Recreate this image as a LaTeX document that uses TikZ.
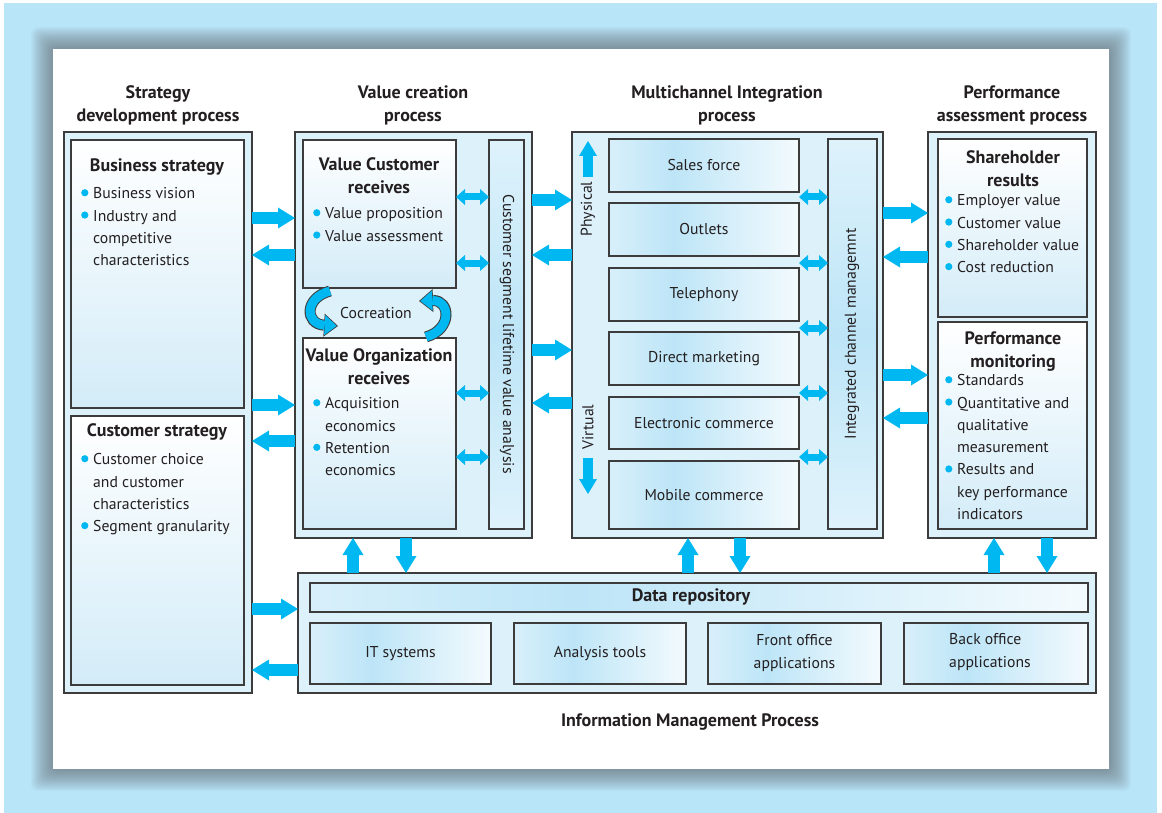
\documentclass[tikz,border=0pt]{standalone}
\usepackage{fontspec}
\setmainfont{PT Sans}
\usetikzlibrary{arrows.meta}
\definecolor{bg}{HTML}{B9E5F9}
\definecolor{cy}{HTML}{00B8F1}
\definecolor{ofill}{HTML}{DDF1FB}
\definecolor{cb}{HTML}{BDE5F7}
\definecolor{cbl}{HTML}{D3ECF8}
\definecolor{bd}{HTML}{3C3C3C}
\definecolor{tx}{HTML}{231F20}
\definecolor{shd}{HTML}{5E6266}
\pgfdeclarehorizontalshading{chanshade}{100bp}{color(0bp)=(white); color(42bp)=(cb); color(82bp)=(white); color(100bp)=(cb!45!white)}
\pgfdeclareverticalshading{midshade}{100bp}{color(0bp)=(white); color(50bp)=(cb); color(100bp)=(white)}
\newcommand\bul{\makebox[12pt][l]{\raisebox{0.3ex}{\tikz\fill[cy] (0,0) circle (3.6pt);}}}
\newcommand\ind{\hspace*{12pt}}
\newcommand\fs{\rule{0pt}{12pt}}
\newcommand\fsh{\rule{0pt}{14pt}}
\newcommand\mkbox[7]{\node[#6, minimum width={(#4)-(#2)}, minimum height={(#5)-(#3)}] (#1) at ({((#2)+(#4))/2},{((#3)+(#5))/2}) {#7};}
\tikzset{
 outer/.style={draw=bd, line width=1.3pt, fill=ofill, inner sep=0pt, outer sep=0pt},
 inbox/.style={draw=bd, line width=1.2pt, top color=white, bottom color=cbl, inner sep=0pt, outer sep=0pt},
 chanbox/.style={draw=bd, line width=1.2pt, shade, shading=chanshade, inner sep=0pt, outer sep=0pt, font=\fontsize{15.7}{23}\selectfont, text=tx, align=center},
 barbox/.style={draw=bd, line width=1.2pt, shade, shading=midshade, inner sep=0pt, outer sep=0pt},
 head/.style={font=\bfseries\fontsize{18}{23}\selectfont, text=tx, align=center, inner sep=0pt, anchor=north},
 body/.style={font=\fontsize{15.7}{22.3}\selectfont, text=tx, align=left, inner sep=0pt, anchor=north west},
 lbl/.style={font=\fontsize{15.7}{18}\selectfont, text=tx, inner sep=0pt},
 barrow/.style={draw=cy, line width=12pt, -{Triangle[width=21pt,length=17pt,line width=0pt]}},
 parrow/.style={draw=cy, line width=10pt, -{Triangle[width=18pt,length=15pt,line width=0pt]}},
 darrow/.style={draw=cy, line width=7pt, {Triangle[width=16pt,length=9pt,line width=0pt]}-{Triangle[width=16pt,length=9pt,line width=0pt]}},
 cocout/.style={draw=bd, line width=11pt, -{Triangle[width=23pt,length=14pt,line width=0pt]}},
 cocin/.style={draw=cy, line width=9pt, shorten >=1.3pt, -{Triangle[width=20pt,length=12pt,line width=0pt]}},
}
\begin{document}
\begin{tikzpicture}[x=1pt,y=-1pt]
\useasboundingbox (0,0) rectangle (1162,813);
\fill[white] (0,0) rectangle (1162,813);
\fill[bg] (4,3) rectangle (1157,813);
\foreach \i in {1,...,22} {\fill[shd, opacity=0.035, rounded corners=7pt] ({53-\i},{49-\i}) rectangle ({1109+\i},{769+\i});}
\fill[white] (53,49) rectangle (1109,769);

% titles
\node[head] (t1) at (158,84) {\fsh Strategy\\development process};
\node[head] (t2) at (413,84) {\fsh Value creation\\process};
\node[head] (t3) at (727,84) {\fsh Multichannel Integration\\process};
\node[head] (t4) at (1012,84) {\fsh Performance\\assessment process};

% strategy column
\mkbox{strat}{64}{132}{252}{693}{outer}{}
\mkbox{bs}{71}{140}{244}{408}{inbox}{}
\mkbox{cs}{71}{416}{244}{685}{inbox}{}
\node[head] (h1) at (157,157.5) {\fsh Business strategy};
\node[body] (b1) at (81,186.5) {\fs\bul Business vision\\\bul Industry and\\\ind competitive\\\ind characteristics};
\node[head] (h4) at (157,422.5) {\fsh Customer strategy};
\node[body] (b2) at (81,452.5) {\fs\bul Customer choice\\\ind and customer\\\ind characteristics\\\bul Segment granularity};

% value column
\mkbox{val}{295}{132}{532}{538}{outer}{}
\mkbox{vc}{303}{140}{456}{288}{inbox}{}
\mkbox{vo}{303}{338}{456}{529}{inbox}{}
\mkbox{cslv}{489}{140}{524}{529}{barbox}{}
\node[head] (h2) at (379,156.5) {\fsh Value Customer\\receives};
\node[body] (b3) at (313,206.5) {\fs\bul Value proposition\\\bul Value assessment};
\node[head] (h3) at (379,347.5) {\fsh Value Organization\\receives};
\node[body] (b4) at (313,396.5) {\fs\bul Acquisition\\\ind economics\\\bul Retention\\\ind economics};
\node[lbl, rotate=-90] (cslvt) at (507,334) {Customer segment lifetime value analysis};
\node[lbl] (coc) at (376,313) {Cocreation};
\draw[cocout] (330,291) .. controls (304,298) and (305,324) .. (338,326);
\draw[cocin] (330,291) .. controls (304,298) and (305,324) .. (338,326);
\draw[cocout] (426,337) .. controls (453,329) and (450,300) .. (419,301);
\draw[cocin] (426,337) .. controls (453,329) and (450,300) .. (419,301);

% multichannel column
\mkbox{mc}{572}{132}{883}{538}{outer}{}
\mkbox{ch1}{609}{139}{799}{192}{chanbox}{Sales force}
\mkbox{ch2}{609}{203}{799}{256}{chanbox}{Outlets}
\mkbox{ch3}{609}{268}{799}{321}{chanbox}{Telephony}
\mkbox{ch4}{609}{332}{799}{385}{chanbox}{Direct marketing}
\mkbox{ch5}{609}{397}{799}{449}{chanbox}{Electronic commerce}
\mkbox{ch6}{609}{461}{799}{529}{chanbox}{Mobile commerce}
\mkbox{icm}{828}{139}{877}{529}{barbox}{}
\node[lbl, rotate=90] (icmt) at (852,334) {Integrated channel managemnt};
\node[lbl, rotate=90] (phys) at (588,209) {Physical};
\node[lbl, rotate=90] (virt) at (588,427) {Virtual};
\coordinate (p1) at (588,177);
\coordinate (p2) at (588,141);
\coordinate (v1) at (588,458);
\coordinate (v2) at (588,494);
\draw[parrow] (p1) -- (p2);
\draw[parrow] (v1) -- (v2);

% performance column
\mkbox{perf}{928}{132}{1096}{538}{outer}{}
\mkbox{sr}{938}{139}{1087}{317}{inbox}{}
\mkbox{pm}{938}{322}{1087}{529}{inbox}{}
\node[head] (h5) at (1013,149.5) {\fsh Shareholder\\results};
\node[body] (b5) at (945,193.5) {\fs\bul Employer value\\\bul Customer value\\\bul Shareholder value\\\bul Cost reduction};
\node[head] (h6) at (1013,330.5) {\fsh Performance\\monitoring};
\node[body] (b6) at (945,373.5) {\fs\bul Standards\\\bul Quantitative and\\\ind qualitative\\\ind measurement\\\bul Results and\\\ind key performance\\\ind indicators};

% information management
\mkbox{info}{298}{573}{1096}{693}{outer}{}
\mkbox{dr}{310}{583}{1088}{612}{chanbox}{}
\node[head, anchor=center] (drt) at (691,597) {Data repository};
\mkbox{it}{310}{623}{491}{684}{chanbox}{IT systems}
\mkbox{an}{514}{623}{686}{684}{chanbox}{Analysis tools}
\mkbox{fo}{708}{623}{881}{684}{chanbox}{Front office\\applications}
\mkbox{bo}{904}{623}{1088}{684}{chanbox}{}
\node[lbl, align=left, font=\fontsize{15.7}{22.5}\selectfont] (bot) at (990,652) {Back office\\applications};
\node[head, anchor=center] (imp) at (690,722) {Information Management Process};

% block arrows strategy <-> value
\draw[barrow] (strat.east |- 0,218) -- (val.west |- 0,218);
\draw[barrow] (val.west |- 0,255) -- (strat.east |- 0,255);
\draw[barrow] (strat.east |- 0,405) -- (val.west |- 0,405);
\draw[barrow] (val.west |- 0,441) -- (strat.east |- 0,441);
% value <-> multichannel
\draw[barrow] (val.east |- 0,200) -- (mc.west |- 0,200);
\draw[barrow] (mc.west |- 0,255) -- (val.east |- 0,255);
\draw[barrow] (val.east |- 0,350) -- (mc.west |- 0,350);
\draw[barrow] (mc.west |- 0,403) -- (val.east |- 0,403);
% multichannel <-> performance
\draw[barrow] (mc.east |- 0,213) -- (perf.west |- 0,213);
\draw[barrow] (perf.west |- 0,257) -- (mc.east |- 0,257);
\draw[barrow] (mc.east |- 0,375) -- (perf.west |- 0,375);
\draw[barrow] (perf.west |- 0,418) -- (mc.east |- 0,418);
% strategy <-> info
\draw[barrow] (strat.east |- 0,609) -- (info.west |- 0,609);
\draw[barrow] (info.west |- 0,670) -- (strat.east |- 0,670);
% vertical
\draw[barrow] (info.north -| 353,0) -- (val.south -| 353,0);
\draw[barrow] (val.south -| 406,0) -- (info.north -| 406,0);
\draw[barrow] (info.north -| 688,0) -- (mc.south -| 688,0);
\draw[barrow] (mc.south -| 740,0) -- (info.north -| 740,0);
\draw[barrow] (info.north -| 994,0) -- (perf.south -| 994,0);
\draw[barrow] (perf.south -| 1047,0) -- (info.north -| 1047,0);
% double arrows
\draw[darrow] (vc.east |- 0,197) -- (cslv.west |- 0,197);
\draw[darrow] (vc.east |- 0,263) -- (cslv.west |- 0,263);
\draw[darrow] (vo.east |- 0,393) -- (cslv.west |- 0,393);
\draw[darrow] (vo.east |- 0,457) -- (cslv.west |- 0,457);
\draw[darrow] (ch1.east |- 0,197) -- (icm.west |- 0,197);
\draw[darrow] (ch2.east |- 0,263) -- (icm.west |- 0,263);
\draw[darrow] (ch3.east |- 0,328) -- (icm.west |- 0,328);
\draw[darrow] (ch4.east |- 0,393) -- (icm.west |- 0,393);
\draw[darrow] (ch5.east |- 0,457) -- (icm.west |- 0,457);
\end{tikzpicture}
\end{document}
